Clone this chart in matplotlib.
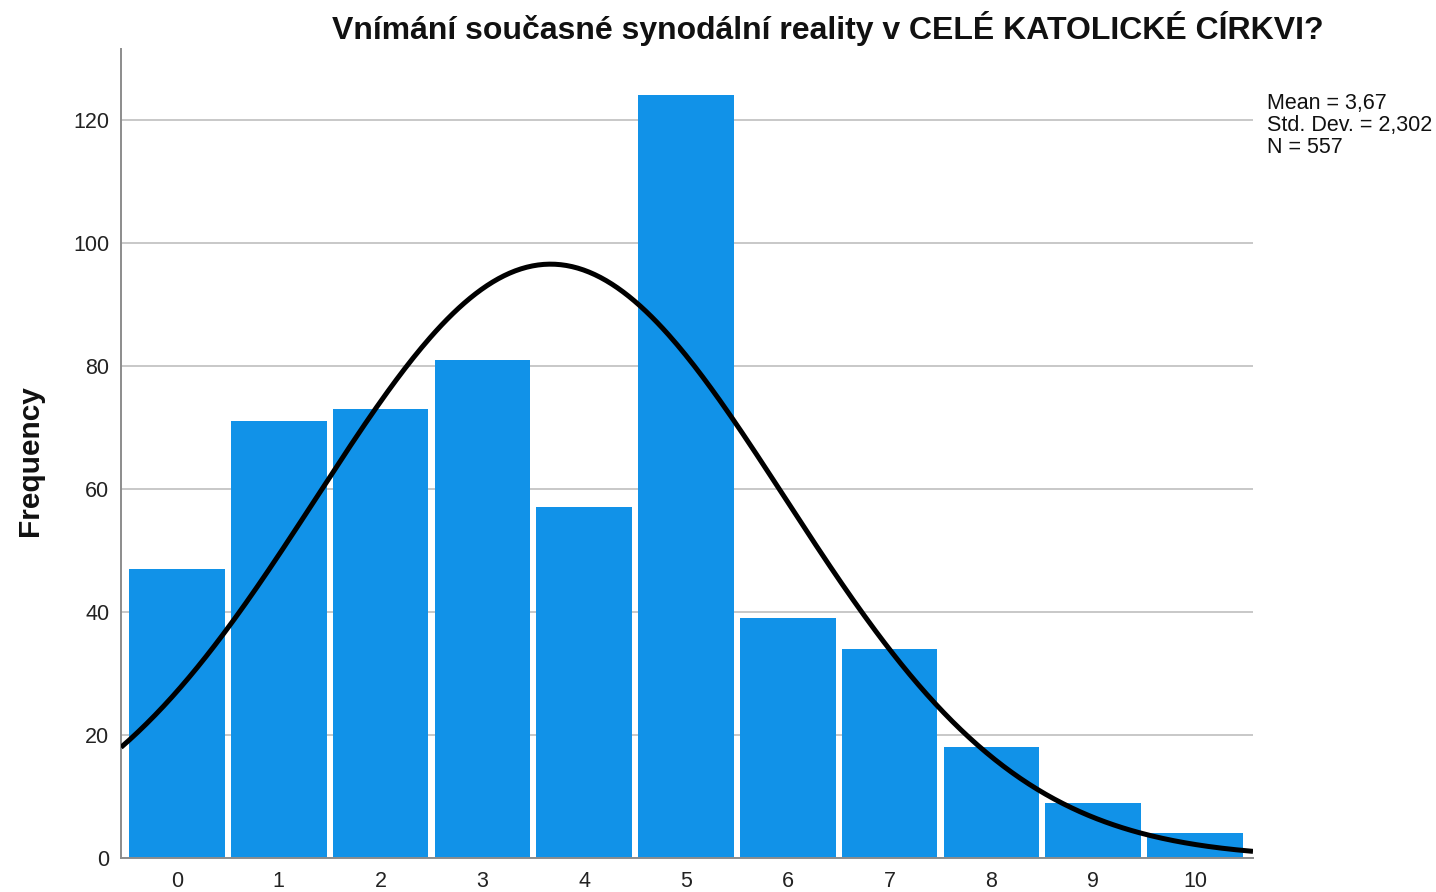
import numpy as np
import matplotlib
matplotlib.use("Agg")
import matplotlib.pyplot as plt

plt.rcParams['font.family'] = ['Liberation Sans', 'DejaVu Sans']

categories = [0, 1, 2, 3, 4, 5, 6, 7, 8, 9, 10]
frequencies = [47, 71, 73, 81, 57, 124, 39, 34, 18, 9, 4]
y_ticks = [0, 20, 40, 60, 80, 100, 120]
title = "Vnímání současné synodální reality v CELÉ KATOLICKÉ CÍRKVI?"
ylabel = "Frequency"
mean_val = 3.67
std_val = 2.302
n_val = 557
stats_text = "Mean = 3,67\nStd. Dev. = 2,302\nN = 557"

fig = plt.figure(figsize=(14.36, 8.92), dpi=100)
ax = fig.add_axes([121/1436, 34/892, (1253-121)/1436, (858-49)/892])

ax.bar(categories, frequencies, width=0.94, color='#1192E8',
       edgecolor='none', linewidth=0, zorder=2)

xs = np.linspace(-0.55, 10.57, 400)
pdf = n_val * np.exp(-0.5 * ((xs - mean_val) / std_val) ** 2) / (std_val * np.sqrt(2 * np.pi))
ax.plot(xs, pdf, color='black', linewidth=3.6, zorder=3, solid_capstyle='butt')

ax.set_xlim(-0.55, 10.57)
ax.set_ylim(0, 131.5)
ax.set_yticks(y_ticks)
ax.set_xticks(categories)
ax.set_xticklabels([str(c) for c in categories])
ax.yaxis.grid(True, color='#c8c8c8', linewidth=1.4, zorder=0)
ax.set_axisbelow(True)
for s in ['top', 'right']:
    ax.spines[s].set_visible(False)
for s in ['left', 'bottom']:
    ax.spines[s].set_color('#8c8c8c')
    ax.spines[s].set_linewidth(1.4)
ax.tick_params(axis='both', length=0, labelsize=15.5, colors='#222222')
ax.tick_params(axis='y', pad=8.5)
ax.tick_params(axis='x', pad=9.5)

fig.text(16/1436, 1 - 461/892, ylabel, rotation=90, fontsize=21.5, fontweight='bold',
         ha='left', va='center', color='#111111')
fig.text(828/1436, 1 - 28/892, title, fontsize=23, fontweight='bold',
         ha='center', va='center', color='#111111')
fig.text(1267/1436, 1 - 93/892, stats_text, fontsize=15.5, ha='left', va='top',
         linespacing=1.05, color='#111111')

fig.savefig("out.png", dpi=100)
